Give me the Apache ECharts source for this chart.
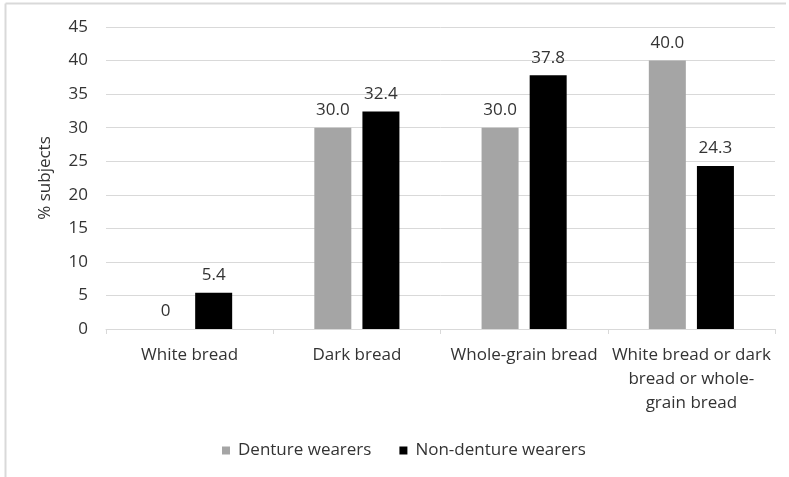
<!DOCTYPE html>
<html><head><meta charset="utf-8">
<script src="https://cdn.jsdelivr.net/npm/echarts@6/dist/echarts.min.js"></script>
<style>html,body{margin:0;padding:0;background:#fff}#c{width:789px;height:477px}</style>
</head><body><div id="c"></div>
<script>
const categories = ["White bread", "Dark bread", "Whole-grain bread", "White bread or dark\nbread or whole-\ngrain bread"];
const dentureWearers = [0, 30.0, 30.0, 40.0];
const nonDentureWearers = [5.4, 32.4, 37.8, 24.3];
const seriesNames = ["Denture wearers", "Non-denture wearers"];
const FONT = "Open Sans";
const TXT = "#333333";
const FS = 17;
const chart = echarts.init(document.getElementById('c'));
function fmt(p){ return p.value === 0 ? "0" : p.value.toFixed(1); }
chart.setOption({
  backgroundColor: "#fff",
  animation: false,
  textStyle: {fontFamily: FONT, color: TXT},
  graphic: [
    {type:'line', shape:{x1:5.5,y1:3.5,x2:786,y2:3.5}, style:{stroke:'#d9d9d9', lineWidth:2}},
    {type:'line', shape:{x1:5.5,y1:3.5,x2:5.5,y2:477}, style:{stroke:'#d9d9d9', lineWidth:2}}
  ],
  grid: {left: 106, right: 14, top: 27, bottom: 148},
  legend: {
    left: 217, top: 437, itemWidth: 8, itemHeight: 8, itemGap: 28,
    icon: 'rect',
    textStyle: {fontFamily: FONT, fontSize: FS, color: TXT, padding: [0,0,0,3]},
    data: seriesNames
  },
  xAxis: {
    type: 'category', data: categories,
    axisLine: {lineStyle: {color: '#d9d9d9'}},
    axisTick: {show: true, length: 5, lineStyle: {color: '#d9d9d9'}},
    axisLabel: {fontFamily: FONT, fontSize: FS, color: TXT, lineHeight: 24, margin: 14, interval: 0}
  },
  yAxis: {
    type: 'value', min: 0, max: 45, interval: 5,
    name: '% subjects', nameLocation: 'middle', nameGap: 52, nameRotate: 90,
    nameTextStyle: {fontFamily: FONT, fontSize: FS, color: TXT},
    axisLine: {show: false}, axisTick: {show: false},
    axisLabel: {fontFamily: FONT, fontSize: FS, color: TXT, margin: 18},
    splitLine: {lineStyle: {color: '#d9d9d9'}}
  },
  series: [
    {name: seriesNames[0], type: 'bar', data: dentureWearers, barWidth: 37, barGap: '30%',
     itemStyle: {color: '#a5a5a5'},
     label: {show: true, position: 'top', distance: 9, formatter: fmt, fontFamily: FONT, fontSize: FS, color: TXT}},
    {name: seriesNames[1], type: 'bar', data: nonDentureWearers, barWidth: 37,
     itemStyle: {color: '#000000'},
     label: {show: true, position: 'top', distance: 9, formatter: fmt, fontFamily: FONT, fontSize: FS, color: TXT}}
  ]
});
</script></body></html>
